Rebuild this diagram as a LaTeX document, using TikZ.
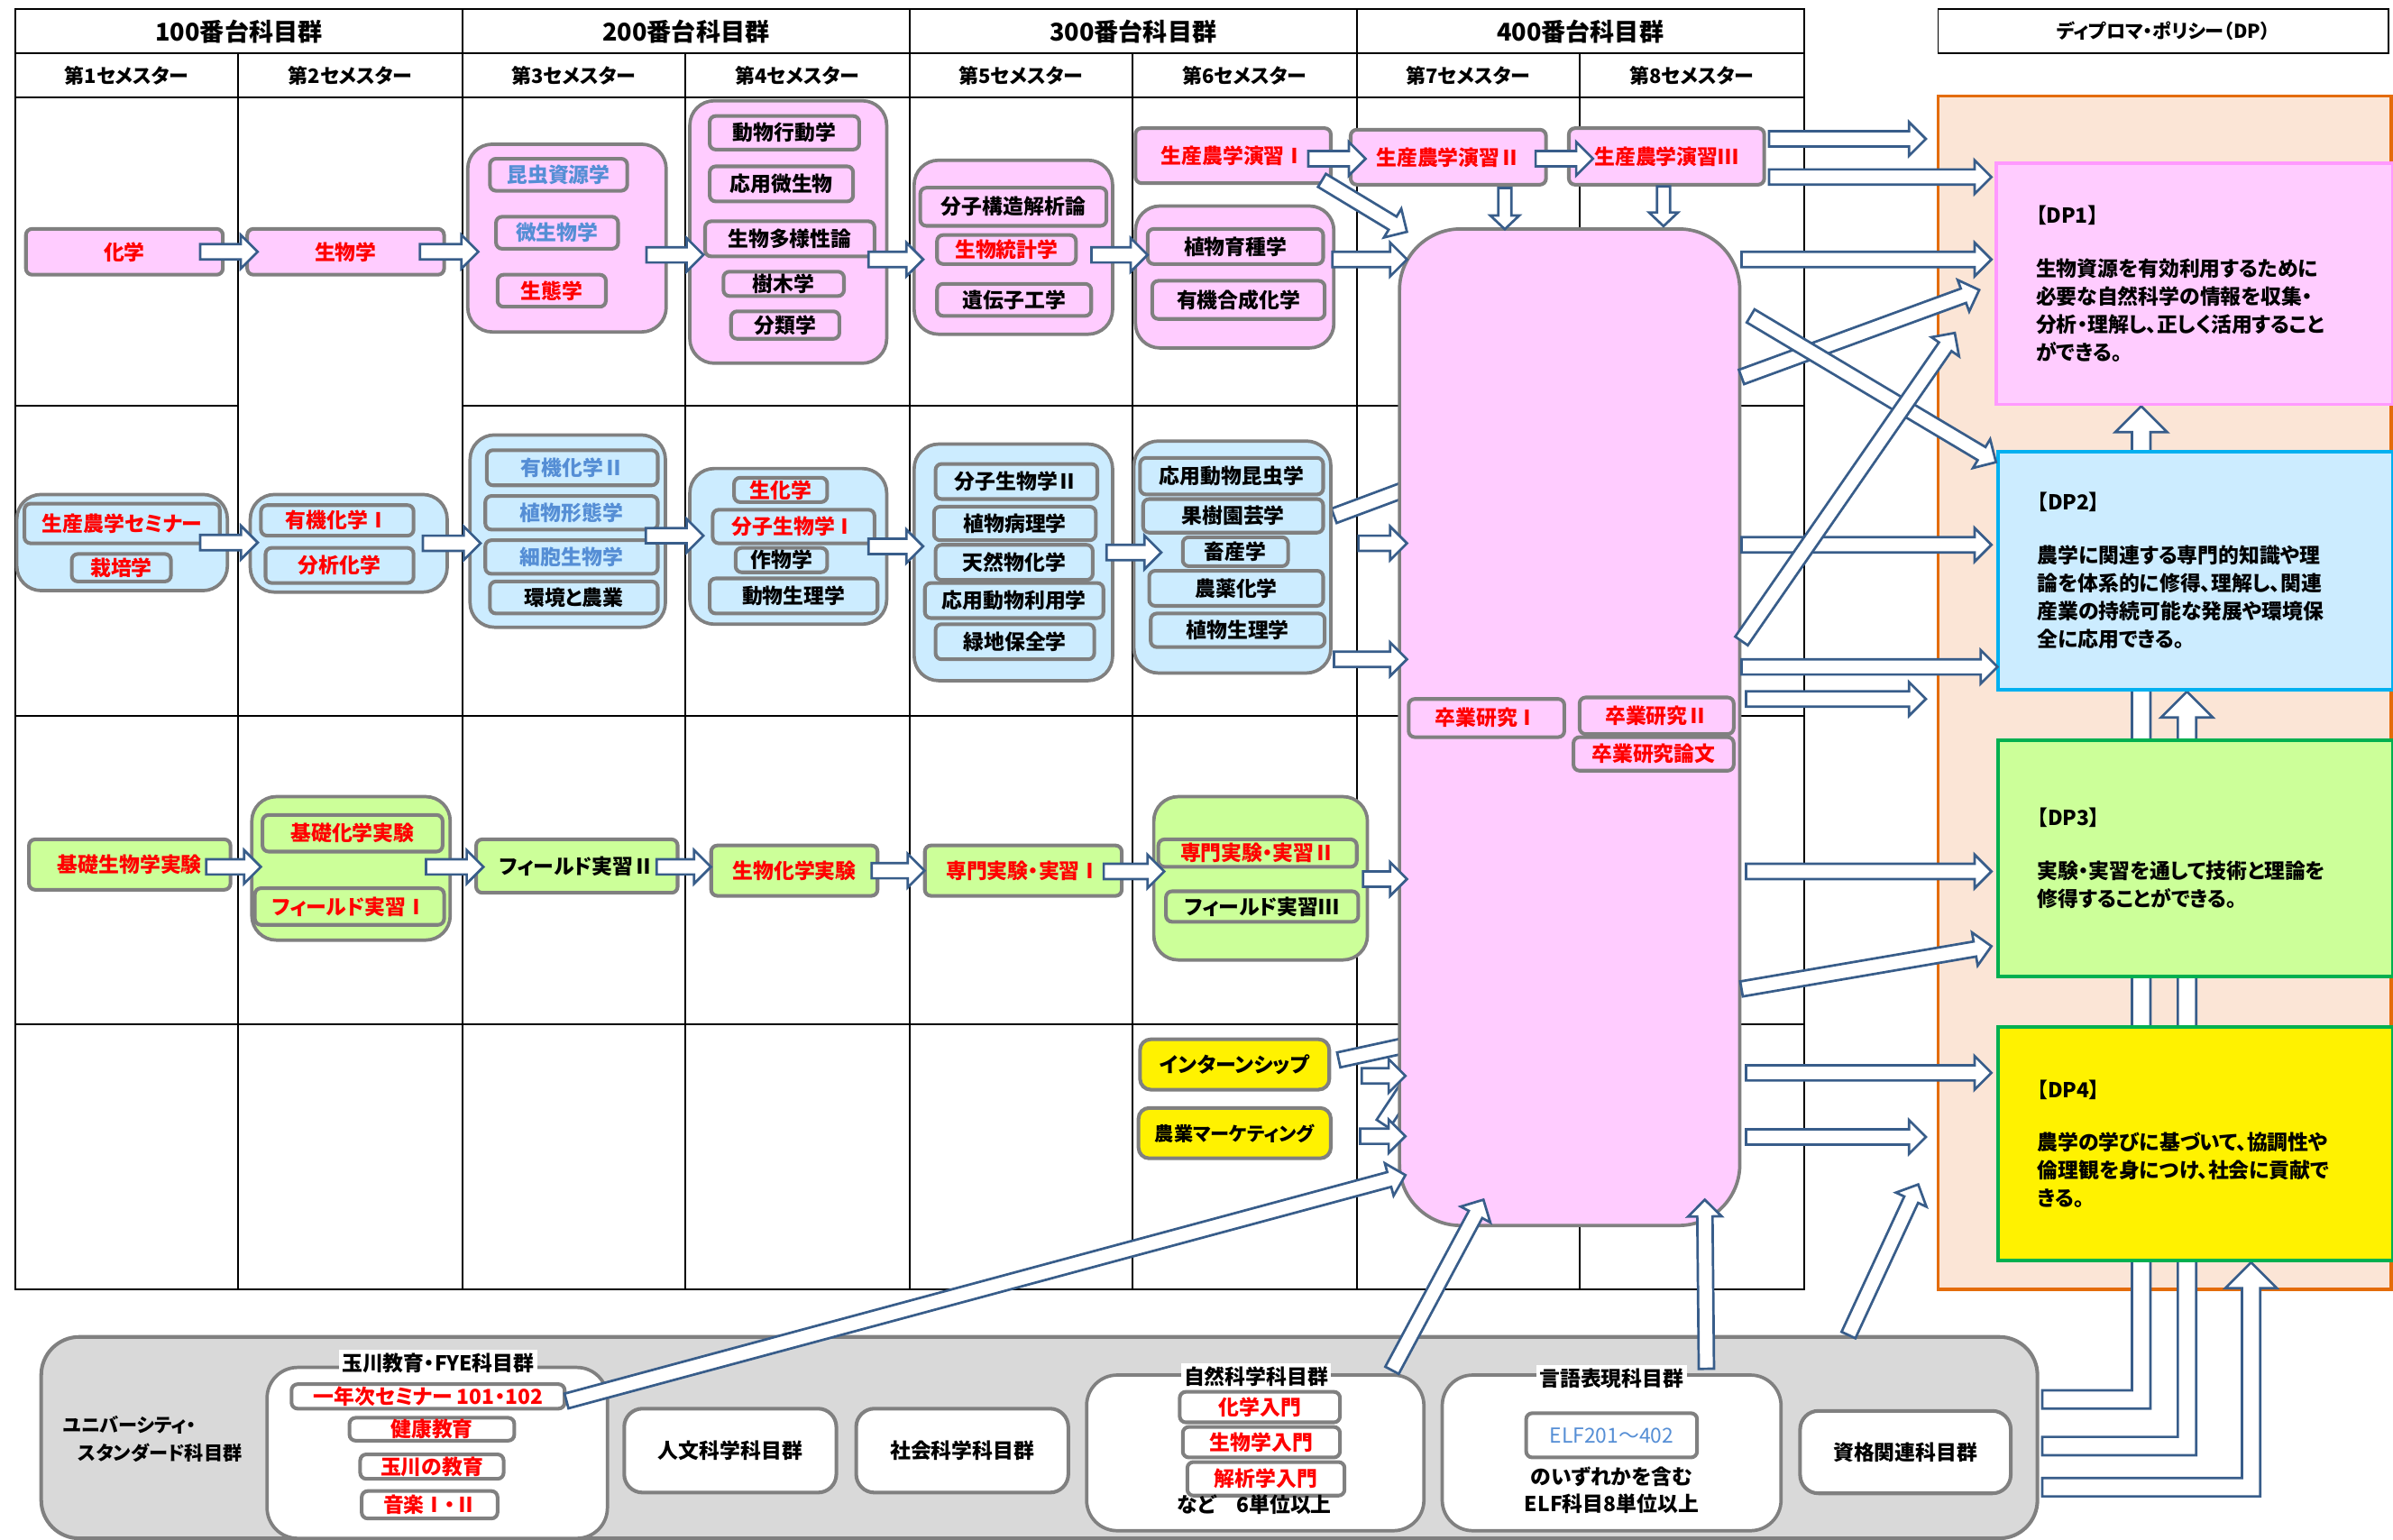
\documentclass[tikz,border=0pt]{standalone}
\usepackage{fontspec}
\setmainfont{Noto Sans CJK JP}[RawFeature=+palt]
\usetikzlibrary{calc}
\pgfdeclarelayer{back}
\pgfdeclarelayer{mid}
\pgfsetlayers{back,mid,main}

\definecolor{pinkf}{RGB}{255,204,255}
\definecolor{bluef}{RGB}{204,236,255}
\definecolor{greenf}{RGB}{204,255,153}
\definecolor{boxgray}{RGB}{128,128,128}
\definecolor{arrblue}{RGB}{56,93,138}
\definecolor{txtred}{RGB}{255,0,0}
\definecolor{txtblue}{RGB}{85,142,213}
\definecolor{dpframe}{RGB}{228,108,10}
\definecolor{dpback}{RGB}{251,229,214}
\definecolor{dpone}{RGB}{255,153,255}
\definecolor{dptwo}{RGB}{0,176,240}
\definecolor{dpthree}{RGB}{0,176,80}
\definecolor{uscgray}{RGB}{217,217,217}

\newcommand{\hdrf}{\fontsize{16}{18}\selectfont\bfseries}
\newcommand{\semf}{\fontsize{13}{15}\selectfont\bfseries}
\newcommand{\crsf}{\fontsize{13.5}{15}\selectfont\bfseries}
\newcommand{\dpf}{\fontsize{13.5}{18.3}\selectfont\bfseries}
\newcommand{\dphf}{\fontsize{12.5}{14}\selectfont\bfseries}
\newcommand{\uscf}{\fontsize{12.5}{18}\selectfont\bfseries}

\tikzset{
  tbl/.style={draw=black, line width=1pt},
  sz/.style 2 args={minimum width=#1pt, minimum height=#2pt},
  redtx/.style={text=txtred},
  bluetx/.style={text=txtblue},
  hdr/.style={font=\hdrf},
  semhd/.style={font=\semf},
  grpbox/.style={draw=boxgray, line width=2.2pt, rounded corners=16pt, inner sep=0pt},
  pkgrp/.style={grpbox, fill=pinkf},
  bkgrp/.style={grpbox, fill=bluef},
  gkgrp/.style={grpbox, fill=greenf},
  wkgrp/.style={grpbox, fill=white, rounded corners=20pt},
  inbox/.style={draw=boxgray, line width=2.4pt, rounded corners=4pt, inner sep=0pt, font=\crsf},
  pk/.style={inbox, fill=pinkf},
  bk/.style={inbox, fill=bluef},
  gk/.style={inbox, fill=greenf},
  wk/.style={inbox, fill=white},
  solo/.style={inbox, rounded corners=7pt},
  ybox/.style={solo, fill=yellow},
  wbox/.style={solo, fill=white, rounded corners=12pt},
  lbl/.style={fill=white, inner sep=2pt, font=\crsf},
  note/.style={font=\crsf, align=center, inner sep=0pt},
  dpbox/.style={line width=2.3pt, minimum width=259pt},
  dptx/.style={anchor=west, align=left, font=\dpf, inner sep=0pt},
  blockarr/.style={fill=white, draw=arrblue, line width=1.6pt},
  uscbox/.style={draw=boxgray, fill=uscgray, line width=2.4pt, rounded corners=25pt}
}

\newcommand{\shaftw}{5pt}
\newcommand{\headw}{11pt}
\newcommand{\headl}{11pt}
% block arrow from #2 to #3
\newcommand{\barr}[3][]{%
  \coordinate (ba-s) at (#2);
  \coordinate (ba-e) at (#3);
  \coordinate (ba-h) at ($(ba-e)!\headl!(ba-s)$);
  \filldraw[blockarr,#1] ($(ba-s)!\shaftw!90:(ba-e)$) -- ($(ba-h)!\shaftw!90:(ba-e)$)
    -- ($(ba-h)!\headw!90:(ba-e)$) -- (ba-e) -- ($(ba-h)!\headw!-90:(ba-e)$)
    -- ($(ba-h)!\shaftw!-90:(ba-e)$) -- ($(ba-s)!\shaftw!-90:(ba-e)$) -- cycle;}
% right, then up
\newcommand{\earr}[2]{%
  \filldraw[blockarr] let \p1=(#1), \p2=(#2) in
    (\x1,\y1+6pt) -- (\x2-6pt,\y1+6pt) -- (\x2-6pt,\y2-17pt) -- (\x2-17pt,\y2-17pt)
    -- (\x2,\y2) -- (\x2+17pt,\y2-17pt) -- (\x2+6pt,\y2-17pt) -- (\x2+6pt,\y1-6pt)
    -- (\x1,\y1-6pt) -- cycle;}

\begin{document}
\begin{tikzpicture}[x=1pt, y=-1pt]
  \useasboundingbox (0,0) rectangle (1568,1009);

  % headers
  \foreach \g in {1,...,4}
    \node[hdr] (grp\g) at (156.5+293*\g-293,20.5) {\g00番台科目群};
  \foreach \s in {1,...,8}
    \node[semhd] (sem\s) at (83+146.5*\s-146.5,49.5) {第{\s}セメスター};

  % diploma policy
  \node[tbl, sz={295}{29}, font=\dphf] (dphead) at (1417.5,20.5) {ディプロマ・ポリシー（DP）};
  \node[dpbox, draw=dpone, fill=pinkf, minimum width=260pt, minimum height=158pt] (dp1) at (1438,186) {};
  \node[dpbox, draw=dptwo, fill=bluef, minimum height=156pt] (dp2) at (1438.5,374) {};
  \node[dpbox, draw=dpthree, fill=greenf, minimum height=155pt] (dp3) at (1438.5,562.5) {};
  \node[dpbox, draw=dpthree, fill=yellow, minimum height=153pt] (dp4) at (1438.5,749.5) {};
  \node[dptx] (dp1t) at ($(dp1.west)+(27,0)$) {【DP1】\\[16.5pt]生物資源を有効利用するために\\必要な自然科学の情報を収集・\\分析・理解し、正しく活用すること\\ができる。};
  \node[dptx] (dp2t) at ($(dp2.west)+(27,0)$) {【DP2】\\[16.5pt]農学に関連する専門的知識や理\\論を体系的に修得、理解し、関連\\産業の持続可能な発展や環境保\\全に応用できる。};
  \node[dptx] (dp3t) at ($(dp3.west)+(27,0)$) {【DP3】\\[16.5pt]実験・実習を通して技術と理論を\\修得することができる。};
  \node[dptx] (dp4t) at ($(dp4.west)+(27,0)$) {【DP4】\\[16.5pt]農学の学びに基づいて、協調性や\\倫理観を身につけ、社会に貢献で\\きる。};

  % graduation research
  \node[pkgrp, rounded corners=40pt, sz={223}{653}] (sotsu) at (1028.5,476.5) {};
  \node[pk, redtx, sz={102}{25}] (sotsu1) at (974,470.5) {卒業研究Ⅰ};
  \node[pk, redtx, sz={101}{24}] (sotsu2) at (1085.5,469) {卒業研究Ⅱ};
  \node[pk, redtx, sz={105}{22}] (sotsuron) at (1083.5,494) {卒業研究論文};

  % row 1
  \node[solo, pk, redtx, sz={129}{30}] (kagaku) at (81.5,165) {化学};
  \node[solo, pk, redtx, sz={129}{30}] (seibutsu) at (226.5,165) {生物学};
  \node[pkgrp, sz={130}{123}] (sem3p) at (371.5,156) {};
  \node[pk, bluetx, sz={90}{21}] (konchu) at (366,114.5) {昆虫資源学};
  \node[pk, bluetx, sz={80}{21}] (biseibutsu) at (365,152.5) {微生物学};
  \node[pk, redtx, sz={71}{21}] (seitai) at (361.5,190.5) {生態学};
  \node[pkgrp, sz={129}{172}] (sem4p) at (516.5,152) {};
  \node[pk, sz={98}{22}] (koudou) at (514,87) {動物行動学};
  \node[pk, sz={94}{23}] (oyobi) at (512,120.5) {応用微生物};
  \node[pk, sz={111}{23}] (tayou) at (517.5,156.5) {生物多様性論};
  \node[pk, sz={79}{16}] (jumoku) at (513.5,186) {樹木学};
  \node[pk, sz={71}{18}] (bunrui) at (514.5,213) {分類学};
  \node[pkgrp, sz={130}{114}] (sem5p) at (664,162) {};
  \node[pk, sz={122}{25}] (kouzou) at (664,135.5) {分子構造解析論};
  \node[pk, redtx, sz={91}{19}] (toukei) at (659.5,163.5) {生物統計学};
  \node[pk, sz={101}{21}] (idenshi) at (664.5,196.5) {遺伝子工学};
  \node[solo, pk, redtx, sz={128}{36}] (ensyu1) at (808,102) {生産農学演習Ⅰ};
  \node[pkgrp, sz={130}{93}] (sem6p) at (809,181.5) {};
  \node[pk, sz={115}{23}] (ikushu) at (809.5,161.5) {植物育種学};
  \node[pk, sz={113}{25}] (gousei) at (811.5,196.5) {有機合成化学};
  \node[solo, pk, redtx, sz={128}{36}] (ensyu2) at (949,103) {生産農学演習Ⅱ};
  \node[solo, pk, redtx, sz={128}{37}] (ensyu3) at (1092,102.5) {生産農学演習Ⅲ};

  % row 2
  \node[bkgrp, sz={138}{63}] (sem1b) at (80,355.5) {};
  \node[bk, redtx, sz={128}{26}] (seminar) at (80,343) {生産農学セミナー};
  \node[bk, redtx, sz={65}{18}] (saibai) at (79.5,372) {栽培学};
  \node[bkgrp, sz={129}{64}] (sem2b) at (228.5,356) {};
  \node[bk, redtx, sz={100}{20}] (yuuki1) at (221,341) {有機化学Ⅰ};
  \node[bk, redtx, sz={97}{23}] (bunseki) at (222.5,370.5) {分析化学};
  \node[bkgrp, sz={128}{126}] (sem3b) at (372,348) {};
  \node[bk, bluetx, sz={112}{23}] (yuuki2) at (375,306.5) {有機化学Ⅱ};
  \node[bk, bluetx, sz={113}{22}] (keitai) at (374.5,336) {植物形態学};
  \node[bk, bluetx, sz={113}{22}] (saibou) at (374.5,365) {細胞生物学};
  \node[bk, sz={110}{21}] (kankyo) at (376,391.5) {環境と農業};
  \node[bkgrp, sz={129}{102}] (sem4b) at (516.5,358) {};
  \node[bk, redtx, sz={61}{16}] (seika) at (511.5,321) {生化学};
  \node[bk, redtx, sz={106}{22}] (bunshi1) at (520,345) {分子生物学Ⅰ};
  \node[bk, sz={60}{16}] (sakumotsu) at (512,367) {作物学};
  \node[bk, sz={110}{23}] (seiri) at (520,390.5) {動物生理学};
  \node[bkgrp, sz={130}{155}] (sem5b) at (664,368.5) {};
  \node[bk, sz={106}{23}] (bunshi2) at (666,315.5) {分子生物学Ⅱ};
  \node[bk, sz={106}{22}] (byouri) at (665,343) {植物病理学};
  \node[bk, sz={103}{23}] (tennen) at (664.5,368.5) {天然物化学};
  \node[bk, sz={117}{23}] (riyou) at (664.5,393.5) {応用動物利用学};
  \node[bk, sz={104}{23}] (ryokuchi) at (665,420.5) {緑地保全学};
  \node[bkgrp, sz={129}{152}] (sem6b) at (807.5,365) {};
  \node[bk, sz={120}{24}] (konchu2) at (807,312) {応用動物昆虫学};
  \node[bk, sz={118}{22}] (kaju) at (808,338) {果樹園芸学};
  \node[bk, sz={69}{19}] (chikusan) at (809.5,361.5) {畜産学};
  \node[bk, sz={114}{23}] (nouyaku) at (810,385.5) {農薬化学};
  \node[bk, sz={114}{22}] (shokuseiri) at (811,413) {植物生理学};

  % row 3
  \node[solo, gk, redtx, sz={132}{33}] (kisoseibutsu) at (85,566.5) {基礎生物学実験};
  \node[gkgrp, sz={130}{94}] (sem2g) at (230,569) {};
  \node[gk, redtx, sz={118}{24}] (kisokagaku) at (231,546) {基礎化学実験};
  \node[gk, redtx, sz={124}{24}] (field1) at (229,594) {フィールド実習Ⅰ};
  \node[solo, gk, sz={132}{35}] (field2) at (378,567.5) {フィールド実習Ⅱ};
  \node[solo, gk, redtx, sz={109}{33}] (seikaji) at (520.5,570.5) {生物化学実験};
  \node[solo, gk, redtx, sz={129}{33}] (senmon1) at (670.5,570.5) {専門実験・実習Ⅰ};
  \node[gkgrp, sz={140}{107}] (sem6g) at (826,575.5) {};
  \node[gk, redtx, sz={130}{18}] (senmon2) at (824,559) {専門実験・実習Ⅱ};
  \node[gk, sz={126}{20}] (field3) at (827,594) {フィールド実習Ⅲ};

  % row 4
  \node[ybox, sz={124}{33}] (intern) at (809,697.5) {インターンシップ};
  \node[ybox, sz={126}{33}, font=\fontsize{12.5}{14}\selectfont\bfseries] (marketing) at (809,742.5) {農業マーケティング};

  % university standard
  \node[uscbox, sz={1308}{132}] (usc) at (681,942) {};
  \node[anchor=west, align=left, font=\uscf, inner sep=0pt] (usclbl) at (41,943) {ユニバーシティ・\\\hspace*{10pt}スタンダード科目群};
  \node[wkgrp, sz={223}{112}] (fye) at (286.5,952) {};
  \node[lbl] (fyelbl) at (287,893) {玉川教育・FYE科目群};
  \node[wk, redtx, sz={179}{16}] (fye1) at (280.5,915) {一年次セミナー 101・102};
  \node[wk, redtx, sz={108}{15}] (kenko) at (283,936.5) {健康教育};
  \node[wk, redtx, sz={94}{16}] (tamakyo) at (283,961) {玉川の教育};
  \node[wk, redtx, sz={89}{18}] (ongaku) at (281.5,986) {音楽Ⅰ・Ⅱ};
  \node[wbox, sz={139}{55}] (jinbun) at (478.5,950.5) {人文科学科目群};
  \node[wbox, sz={139}{55}] (shakai) at (630.5,950.5) {社会科学科目群};
  \node[wkgrp, sz={221}{102}] (shizen) at (822.5,952) {};
  \node[lbl] (shizenlbl) at (823,902) {自然科学科目群};
  \node[wk, redtx, sz={105}{20}] (kanyu) at (825.5,922) {化学入門};
  \node[wk, redtx, sz={103}{20}] (seinyu) at (826.5,945) {生物学入門};
  \node[wk, redtx, sz={103}{22}] (kainyu) at (829.5,969) {解析学入門};
  \node[note] (nado) at (822,986) {など　6単位以上};
  \node[wkgrp, sz={222}{102}] (gengo) at (1056,952) {};
  \node[lbl] (gengolbl) at (1056,903) {言語表現科目群};
  \node[wk, sz={112}{29}, text=txtblue, font=\fontsize{13.5}{15}\selectfont] (elf) at (1056,940.5) {ELF201～402};
  \node[note, font=\fontsize{13.5}{18}\selectfont\bfseries] (elfnote) at (1056,976.5) {のいずれかを含む\\ELF科目8単位以上};
  \node[wbox, sz={138}{54}] (shikaku) at (1248.5,951.5) {資格関連科目群};

  % table and frame
  \begin{pgfonlayer}{back}
    \draw[tbl] (10,6) rectangle (1182,845);
    \draw[tbl] (10,35) -- (1182,35) (10,64) -- (1182,64);
    \foreach \x in {303,596,889} \draw[tbl] (\x,6) -- (\x,845);
    \foreach \x in {156,449,742,1035} \draw[tbl] (\x,35) -- (\x,845);
    \draw[tbl] (10,266) -- (156,266) (303,266) -- (1182,266);
    \foreach \y in {469,671} \draw[tbl] (10,\y) -- (1182,\y);
    \node[draw=dpframe, fill=dpback, line width=2.2pt, sz={297}{782}] (dpcont) at (1418.5,454) {};
  \end{pgfonlayer}

  \begin{pgfonlayer}{mid}
    \earr{$(usc.east)+(2,-25)$}{$(dp1.south)+(-35,0)$}
    \earr{$(usc.east)+(2,5.5)$}{$(dp2.south)+(-5.5,0)$}
    \earr{$(usc.east)+(2,32.5)$}{$(dp4.south)+(36.5,0)$}
    \barr{$(sem6b.east)+(1,-27)$}{$(sotsu.west)+(28,-164.5)$}
    \barr{$(intern.east)+(5,-3)$}{$(sotsu.west)+(28,203.5)$}
    \barr{$(marketing.east)+(33,-6)$}{$(sotsu.west)+(30,200)$}
  \end{pgfonlayer}

  \coordinate (dpin1) at ($(dpcont.west |- ensyu3.east)+(-7,-11.5)$);
  \coordinate (dpin2) at ($(dp1.south west)+(-26,-48)$);
  \coordinate (dpin3) at ($(dpcont.west |- sotsu.east)+(-7,-18.5)$);
  \coordinate (dpin4) at ($(dpcont.west |- sotsu.east)+(-7,268.5)$);
  \coordinate (dpin5) at ($(dpcont.south west)+(-12,-70)$);

  % row 1 arrows
  \barr{$(kagaku.east)+(-16,0)$}{$(seibutsu.west)+(8,0)$}
  \barr{$(seibutsu.east)+(-17,0)$}{$(seibutsu.east -| sem3p.west)+(8,0)$}
  \barr{$(sem3p.east)+(-14,11)$}{$(sem3p.east -| sem4p.west)+(10,11)$}
  \barr{$(sem4p.east)+(-13,18)$}{$(sem4p.east -| sem5p.west)+(7,18)$}
  \barr{$(sem5p.east)+(-15,5)$}{$(sem5p.east -| sem6p.west)+(9,5)$}
  \barr{$(ensyu1.east)+(-16,2)$}{$(ensyu1.east -| ensyu2.west)+(11,2)$}
  \barr{$(ensyu2.east)+(-8,1)$}{$(ensyu2.east -| ensyu3.west)+(17,1)$}
  {\renewcommand{\shaftw}{4.3pt}\renewcommand{\headw}{9.5pt}\renewcommand{\headl}{9pt}
   \barr{$(ensyu2.south)+(37,1)$}{$(ensyu2.south)+(37,28)$}
   \barr{$(ensyu3.south)+(-2,0)$}{$(ensyu3.south)+(-2,26)$}}
  \barr{$(ensyu1.south east)+(-7,-3)$}{$(sotsu.north west)+(6,3)$}
  \barr{$(sem6p.east)+(-2,-11.5)$}{$(sem6p.east -| sotsu.west)+(6,-11.5)$}

  % row 2 arrows
  \barr{$(sem1b.east)+(-19,0)$}{$(sem1b.east -| sem2b.west)+(6,0)$}
  \barr{$(sem2b.east)+(-17,0)$}{$(sem2b.east -| sem3b.west)+(8,0)$}
  \barr{$(sem3b.east)+(-14,3)$}{$(sem3b.east -| sem4b.west)+(10,3)$}
  \barr{$(sem4b.east)+(-13,0)$}{$(sem4b.east -| sem5b.west)+(7,0)$}
  \barr{$(sem5b.east)+(-5,-6.5)$}{$(sem5b.east -| sem6b.west)+(19,-6.5)$}
  \barr{$(sem6b.east)+(17,-9)$}{$(sem6b.east -| sotsu.west)+(6,-9)$}
  \barr{$(sem6b.east)+(1,67)$}{$(sem6b.east -| sotsu.west)+(6,67)$}

  % row 3 arrows
  \barr{$(kisoseibutsu.east)+(-17,1.5)$}{$(kisoseibutsu.east -| sem2g.west)+(7,1.5)$}
  \barr{$(sem2g.east)+(-17,-1)$}{$(sem2g.east -| field2.west)+(6,-1)$}
  \barr{$(field2.east)+(-15,0.5)$}{$(field2.east -| seikaji.west)+(1,0.5)$}
  \barr{$(seikaji.east)+(-5,0)$}{$(seikaji.east -| senmon1.west)+(1,0)$}
  \barr{$(senmon1.east)+(-13,0.5)$}{$(senmon1.east -| sem6g.west)+(8,0.5)$}
  \barr{$(sem6g.east)+(-4,0.5)$}{$(sem6g.east -| sotsu.west)+(6,0.5)$}

  % row 4 and common subjects
  \barr{$(intern.east)+(20,7.5)$}{$(intern.east -| sotsu.west)+(5,7.5)$}
  \barr{$(marketing.east)+(18,2)$}{$(marketing.east -| sotsu.west)+(5,2)$}
  \barr{$(fye1.east)+(0,3)$}{$(sotsu.west)+(5,293.5)$}
  \barr{$(shizen.north east)+(-22,-2)$}{$(sotsu.south)+(-56.5,-18)$}
  \barr{$(gengo.north east)+(-50,-3)$}{$(sotsu.south)+(88.5,-18)$}

  % to diploma policy
  \barr{$(ensyu3.east)+(2,-11.5)$}{dpin1}
  \barr{$(ensyu3.east)+(2,13.5)$}{$(ensyu3.east -| dp1.west)+(-2,13.5)$}
  \barr{$(sotsu.east)+(0,-306.5)$}{$(sotsu.east -| dp1.west)+(-2,-306.5)$}
  \barr{$(sotsu.east)+(0,-119.5)$}{$(sotsu.east -| dp2.west)+(-3,-119.5)$}
  \barr{$(sotsu.east)+(0,-39.5)$}{$(sotsu.east -| dp2.west)+(1,-39.5)$}
  \barr{$(sotsu.east)+(3,-18.5)$}{dpin3}
  \barr{$(sotsu.east)+(3,94.5)$}{$(sotsu.east -| dp3.west)+(-3,94.5)$}
  \barr{$(sotsu.east)+(0,171.5)$}{$(dp3.west)+(-3,57.5)$}
  \barr{$(sotsu.east)+(3,226.5)$}{$(sotsu.east -| dp4.west)+(-3,226.5)$}
  \barr{$(sotsu.east)+(3,268.5)$}{dpin4}
  \barr{$(usc.north east)+(-125,0)$}{dpin5}
  \barr{$(sotsu.east)+(0,-229.5)$}{$(dp1.west)+(-10,4)$}
  \barr{$(sotsu.east)+(6,-269.5)$}{$(dp2.north west)+(0,8)$}
  \barr{$(sotsu.east)+(0,-56.5)$}{dpin2}
\end{tikzpicture}
\end{document}
